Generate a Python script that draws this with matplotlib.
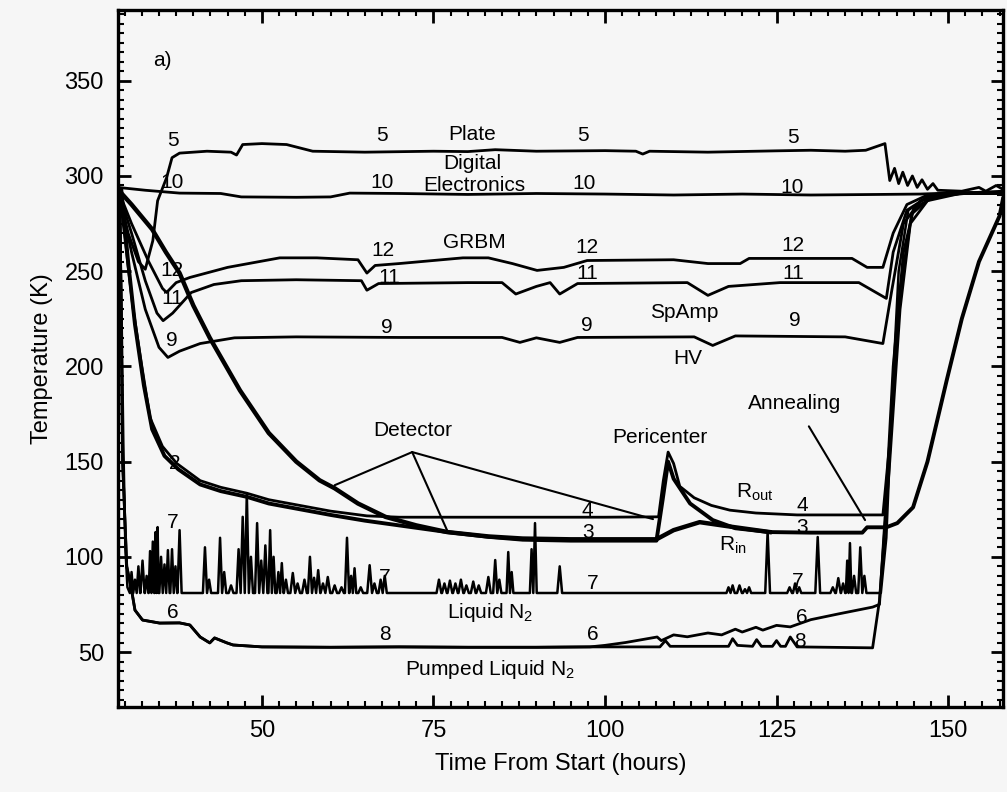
import matplotlib
matplotlib.use("Agg")
import matplotlib.pyplot as plt

plt.rcParams['font.family'] = ['Liberation Sans', 'DejaVu Sans']
plt.rcParams['mathtext.default'] = 'regular'

# --- curves (hours, K) ---
t5 = [29.0, 30.5, 32.0, 33.0, 34.1, 34.8, 36.1, 36.9, 38.0, 42.0, 45.5, 46.3, 47.2, 50.0, 53.6, 57.4,
      65.0, 75.0, 80.0, 84.0, 90.0, 100.0, 104.5, 105.5, 106.5, 115.0, 125.0, 130.0, 135.0, 138.0,
      140.8, 141.5, 142.2, 142.8, 143.4, 144.1, 144.8, 145.5, 146.2, 147.0, 147.8, 148.5, 152.0,
      154.5, 155.5, 157.0, 158.0]
T5 = [293, 270, 255, 251, 266, 287, 299, 309.6, 312, 313, 312.5, 311, 316.5, 317, 316.5, 313,
      312.5, 313, 312.8, 313.8, 313, 313.3, 313, 311.5, 313, 312.5, 313.2, 313.5, 313, 313.5,
      317, 297.6, 304, 296, 302, 295, 300, 294, 298, 293, 296, 292.5, 292,
      294, 292, 295, 293]

t10 = [29.0, 33.0, 38.0, 44.0, 47.0, 55.0, 60.0, 62.8, 70.0, 80.0, 90.0, 100.0, 110.0, 120.0,
       130.0, 140.0, 145.9, 150.0, 158.0]
T10 = [294, 292.5, 291, 290.8, 289, 288.8, 289, 291, 290.8, 290.3, 290.8, 290.5, 290, 290.5,
       290, 290.3, 290.5, 291, 291]

t12 = [29.0, 31.0, 33.5, 35.5, 36.1, 37.5, 39.5, 45.0, 52.6, 58.0, 64.0, 65.3, 66.5, 70.0, 79.3,
       83.0, 86.5, 90.1, 94.0, 97.4, 110.0, 115.0, 119.7, 121.0, 136.0, 138.2, 140.5, 142.0,
       144.0, 147.0, 150.0, 158.0]
T12 = [293, 275, 255, 241, 238.8, 244, 246.7, 252, 257, 257, 256, 249, 253, 254, 257,
       257, 254, 250.4, 252, 255.6, 256, 254, 254, 256.7, 256.7, 252, 252, 270,
       285, 290, 291, 291]

t11 = [29.0, 31.0, 33.0, 34.7, 35.6, 37.0, 39.7, 43.0, 47.0, 55.0, 64.5, 65.3, 67.0, 80.0, 85.0,
       87.0, 90.0, 92.0, 93.4, 96.0, 112.0, 115.0, 118.0, 125.5, 137.0, 141.0, 142.0, 144.0,
       147.0, 151.0, 158.0]
T11 = [293, 270, 245, 228, 224, 228, 238.8, 243, 245, 245.5, 245, 240, 243.5, 244, 244,
       238, 242, 244, 238, 243.5, 244, 237.3, 242, 244, 244, 235.7, 260, 282,
       289, 291, 291]

t9 = [29.0, 31.0, 33.0, 35.0, 36.3, 38.0, 41.0, 46.0, 55.0, 70.0, 85.0, 87.6, 90.0, 93.4, 96.0,
      113.0, 115.7, 119.0, 135.0, 140.5, 141.8, 143.5, 146.0, 150.0, 158.0]
T9 = [293, 260, 230, 210, 204.7, 208, 212, 215, 215.5, 215.2, 215.2, 212.6, 215, 212.6, 215.2,
      215.5, 211, 216, 215.5, 212, 240, 275, 287, 291, 291]

# curve 2 -> 4 (Rout)
t4 = [29.2, 30.2, 31.2, 32.5, 33.7, 35.5, 37.6, 41.0, 44.0, 47.8, 51.0, 55.5, 60.0, 65.3, 70.0,
      80.0, 90.0, 100.0, 107.8, 108.5, 109.2, 110.0, 110.9, 113.0, 115.5, 118.2, 122.0, 128.0,
      135.0, 140.5, 141.5, 143.0, 144.7, 147.5, 153.0, 158.0]
T4 = [293, 262, 231, 200, 173, 158, 149, 140, 136.5, 133.4, 130, 127, 124, 121.5, 120.8,
      120.8, 120.8, 120.8, 121, 140, 155, 149, 137, 131, 127, 124.5, 123, 122,
      122, 122, 160, 240, 280, 289, 291, 291]

# curve 3 (Rin)
t3 = [29.5, 30.5, 31.5, 32.8, 34.0, 35.8, 37.8, 41.0, 44.0, 47.8, 51.0, 55.5, 60.0, 65.0, 68.0,
      73.0, 77.0, 83.0, 88.0, 95.0, 100.0, 107.5, 108.4, 109.2, 110.0, 112.4, 115.7, 119.0,
      124.0, 130.0, 137.5, 138.2, 141.0, 142.6, 144.9, 147.0, 149.8, 152.0, 154.5, 156.5,
      157.5, 158.0]
T3 = [293, 255, 222, 190, 167, 153, 146, 138, 134.5, 131.5, 128, 125, 122, 119, 117.5,
      115, 113, 110.5, 109, 108.5, 108.5, 108.5, 130, 150, 141, 128, 119.3, 115,
      113, 112.7, 112.7, 115.5, 115.5, 117.7, 126, 150, 192.7, 225, 255, 271,
      279, 288]

# slow detector curve
tD = [29.0, 31.0, 34.0, 36.0, 38.0, 40.0, 42.4, 46.8, 51.0, 55.0, 58.4, 60.6, 64.0, 68.0, 72.5,
      77.0, 83.0, 88.0, 95.0, 100.0, 107.5, 110.0, 113.8, 118.0, 124.0]
TD = [293, 285, 272, 260, 249, 232, 215, 187.4, 165, 150, 140.2, 136, 128, 121, 116.5,
      113, 110.7, 109.6, 109.2, 109.2, 109.2, 114, 118.2, 116, 113]

# pumped LN2 (6 and 8 share the early part)
t68 = [29.3, 29.7, 30.3, 31.0, 31.5, 32.6, 35.1, 38.0, 39.5, 41.0, 42.4, 43.1, 44.9, 45.8, 50.0,
       60.0, 70.0, 80.0, 90.0, 97.8]
T68 = [293, 150, 95, 82.6, 72, 66.8, 65.2, 65.3, 64.2, 57.9, 54.8, 57.4, 54.8, 53.7, 52.7,
       52.5, 52.7, 52.5, 52.5, 52.7]
t6 = [100.0, 103.0, 107.6, 108.2, 110.0, 112.0, 115.0, 117.0, 119.0, 120.0, 122.0, 123.0, 125.0,
      127.0, 130.0, 134.0, 139.0, 140.0, 140.8, 142.0, 143.5, 145.0, 148.0, 152.0, 158.0]
T6 = [53.5, 55, 57.9, 56, 59, 58, 60, 59, 62, 60.5, 63, 61.5, 64,
      63.2, 67, 70, 73.6, 75, 120, 200, 260, 283, 289, 291, 291]
t8 = [108.0, 108.8, 109.5, 118.0, 118.6, 119.3, 121.5, 122.1, 122.8, 124.4, 125.0, 125.6, 126.3,
      127.0, 128.0, 139.0, 140.0, 141.5, 143.0, 144.5, 147.0, 152.0, 158.0]
T8 = [52.7, 56, 53, 53, 57, 53.5, 53, 56.5, 53, 53, 56, 53, 53,
      57.9, 52.7, 52.2, 77, 150, 230, 275, 287, 291, 292]

# LN2 (7): drop, spikes on an ~81 K baseline, final warm-up
t7_start = [29.2, 29.5, 29.8, 30.1, 30.4]
T7_start = [293, 240, 160, 105, 84]
spike_t7 = [31.0, 31.5, 32.0, 32.6, 33.2, 33.7, 34.1, 34.5, 34.8, 35.3, 35.8, 36.3, 36.9, 37.4, 38.0,
            41.7, 42.3, 43.9, 44.5, 45.5, 46.6, 47.2, 47.8, 48.4, 49.3, 49.9, 50.5, 51.2, 51.7,
            52.4, 52.9, 53.5, 54.5, 55.2, 56.2, 57.0, 57.6, 58.2, 58.9, 59.6, 60.6, 61.6, 62.4,
            63.0, 63.5, 64.4, 65.7, 66.4, 67.3, 67.9,
            75.8, 76.6, 77.4, 78.2, 79.0, 79.8, 80.8, 81.6, 83.0, 84.0, 84.6, 85.9, 86.4, 89.3,
            89.8, 93.4,
            118.0, 118.6, 119.6, 120.4, 121.0, 123.7, 126.9, 127.7, 128.3, 131.0, 133.2, 134.0,
            134.7, 135.3, 135.7, 136.3, 137.2, 137.8]
spike_T7 = [92, 88, 95, 98, 90, 103, 108, 113, 115.6, 100, 96, 103.5, 104, 95, 114,
            105, 88, 110, 92, 85, 104, 121, 133.4, 100, 117.7, 98, 106, 114, 100,
            92, 96.7, 88, 91.5, 86, 88, 100, 89, 93, 86, 89.4, 85, 84, 110,
            90, 94, 84, 95.6, 86, 88, 90,
            88, 86, 87.5, 86, 88, 85, 87, 85, 89.4, 98.3, 88, 102.5, 92, 104,
            117.7, 95,
            84, 85, 85, 83, 84, 113, 84, 86, 84, 110.4, 84, 88.8,
            86, 98, 107.2, 90, 105, 90]
t7_end = [140.2, 141.0, 141.8, 142.8, 144.2, 147.0, 151.0, 158.0]
T7_end = [81, 110, 180, 250, 282, 289, 291, 291]
base7 = 81

labels = [("a)", 35.5, 360.5),
          ("5", 37.0, 318.5), ("5", 67.5, 321), ("5", 96.8, 321), ("5", 127.4, 320),
          ("Plate", 80.7, 322), ("Digital", 80.7, 306.5), ("Electronics", 81.0, 295),
          ("10", 36.9, 296.5), ("10", 67.5, 296.5), ("10", 97.0, 296), ("10", 127.3, 294),
          ("GRBM", 81.0, 265),
          ("12", 36.9, 250.4), ("12", 67.6, 260.9), ("12", 97.4, 262.4), ("12", 127.4, 263.5),
          ("11", 36.9, 235.7), ("11", 68.6, 246.7), ("11", 97.4, 248.8), ("11", 127.4, 249),
          ("SpAmp", 111.5, 228.3),
          ("9", 36.9, 213.7), ("9", 68.2, 220.5), ("9", 97.4, 221.5), ("9", 127.7, 224),
          ("HV", 112.0, 204),
          ("2", 37.3, 149.2),
          ("4", 97.4, 124.5), ("4", 128.7, 127), ("3", 97.5, 113), ("3", 128.7, 115.6),
          (r"R$_{out}$", 121.9, 134), (r"R$_{in}$", 118.6, 106.2),
          ("7", 37.0, 118), ("7", 67.9, 88.9), ("7", 98.2, 86.2), ("7", 128.1, 86.8),
          ("Liquid N$_2$", 83.2, 71),
          ("6", 37.0, 70.5), ("8", 67.9, 59), ("6", 98.2, 59), ("6", 128.7, 67.9), ("8", 128.4, 55.3),
          ("Pumped Liquid N$_2$", 83.2, 41)]

# pointers: (text position, target)
detector_label = (72.0, 161.2)
detector_apex = (71.9, 155.0)
detector_targets = [(60.6, 137.6), (77.1, 113.0), (107.0, 119.8)]
pericenter_label = (108.0, 162.8)
annealing_label = (127.7, 180.6)
annealing_target = (137.9, 119.3)


def spiky(t0, T0, cs, ps, base, t1, T1):
    t, T = list(t0), list(T0)
    for i, (c, p) in enumerate(zip(cs, ps)):
        gl = c - cs[i - 1] if i > 0 else 1.0
        gr = cs[i + 1] - c if i < len(cs) - 1 else 1.0
        hw = min(0.35, 0.5 * gl, 0.5 * gr)
        t += [c - hw, c, c + hw]
        T += [base, p, base]
    return t + list(t1), T + list(T1)


t7, T7 = spiky(t7_start, T7_start, spike_t7, spike_T7, base7, t7_end, T7_end)

fig = plt.figure(figsize=(10.07, 7.92), dpi=100, facecolor='#f6f6f6')
ax = fig.add_axes([0.117, 0.107, 0.879, 0.880])
ax.set_facecolor('#f6f6f6')

lw = 2.0
ax.plot(t5, T5, color='k', lw=lw)
ax.plot(t10, T10, color='k', lw=lw)
ax.plot(t12, T12, color='k', lw=lw)
ax.plot(t11, T11, color='k', lw=lw)
ax.plot(t9, T9, color='k', lw=lw)
ax.plot(t4, T4, color='k', lw=lw)
ax.plot(t3, T3, color='k', lw=2.8)
ax.plot(tD, TD, color='k', lw=3.2)
ax.plot(t68 + t6, T68 + T6, color='k', lw=lw)
ax.plot(t68 + t8, T68 + T8, color='k', lw=lw)
ax.plot(t7, T7, color='k', lw=1.8)

for txt, x, y in labels:
    ax.text(x, y, txt, fontsize=15, ha='center', va='center', color='k')

ax.text(*detector_label, "Detector", fontsize=15, ha='center', va='bottom')
for tgt in detector_targets:
    ax.annotate("", xy=tgt, xytext=detector_apex,
                arrowprops=dict(arrowstyle='-', color='k', lw=1.5, shrinkA=0, shrinkB=0))
ax.text(*pericenter_label, "Pericenter", fontsize=15, ha='center', va='center')
ax.annotate("Annealing", xy=annealing_target, xytext=annealing_label, fontsize=15,
            ha='center', va='center',
            arrowprops=dict(arrowstyle='-', color='k', lw=1.5, shrinkA=9, shrinkB=0))

ax.set_xlim(29, 158)
ax.set_ylim(21, 387)
ax.set_xticks([50, 75, 100, 125, 150])
ax.set_yticks([50, 100, 150, 200, 250, 300, 350])
ax.set_xticks([x * 2.5 for x in range(12, 64)], minor=True)
ax.set_yticks(list(range(25, 390, 5)), minor=True)
ax.tick_params(which='both', direction='in', top=True, right=True, labelsize=17, colors='k')
ax.tick_params(which='major', length=9, width=2)
ax.tick_params(which='minor', length=4.5, width=1.5)
ax.tick_params(axis='y', pad=10)
ax.tick_params(axis='x', pad=9)
for s in ax.spines.values():
    s.set_linewidth(2.4)

ax.set_xlabel("Time From Start (hours)", fontsize=17, labelpad=8)
ax.set_ylabel("Temperature (K)", fontsize=17, labelpad=8)

fig.savefig("out.png", dpi=100, facecolor=fig.get_facecolor())
